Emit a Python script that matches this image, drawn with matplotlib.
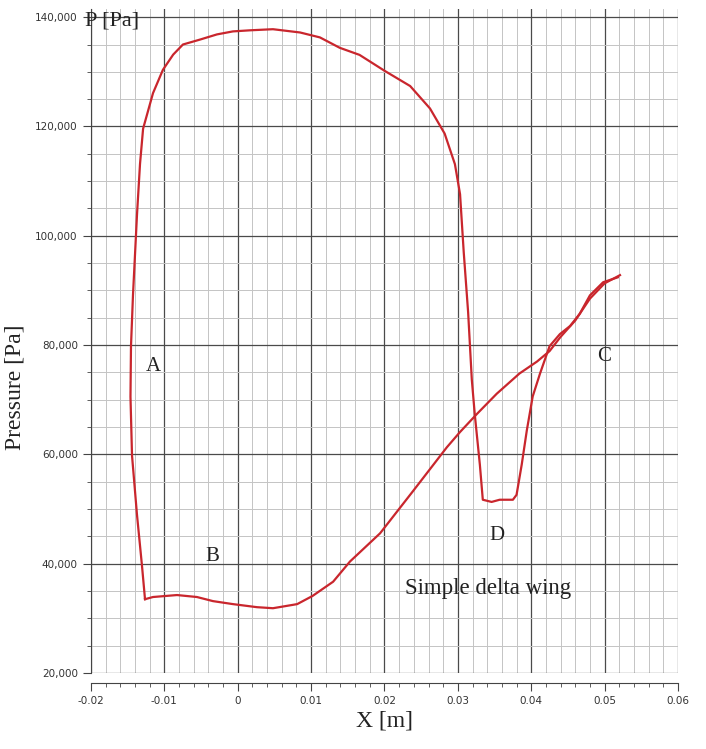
import numpy as np
import matplotlib.pyplot as plt
from matplotlib.ticker import MultipleLocator, FuncFormatter

# upper surface: from leading-edge corner, up the left branch, over the top, down to D, up to C
upper_x = [-0.01264, -0.01305, -0.01373, -0.01441, -0.01462, -0.01455, -0.01428, -0.01373,
           -0.01332, -0.0129, -0.01155, -0.0102, -0.0088, -0.00747, -0.00515, -0.00283,
           -0.00065, 0.0017, 0.0048, 0.0085, 0.0112, 0.0139, 0.0166, 0.0200, 0.0235,
           0.0262, 0.0282, 0.0296, 0.0303, 0.0308, 0.0314, 0.0319, 0.0323, 0.0330,
           0.0334, 0.0346, 0.0357, 0.0375, 0.0380, 0.0387, 0.0394, 0.0402, 0.0412,
           0.0425, 0.0439, 0.0453, 0.0466, 0.0480, 0.0498, 0.0518]
upper_p = [33500, 39600, 48900, 59800, 70550, 79800, 89100, 103900,
           113150, 119600, 126100, 130370, 133150, 135000, 135900, 136850,
           137400, 137600, 137800, 137200, 136300, 134400, 133100, 130200, 127400,
           123300, 118700, 113100, 107600, 97000, 86000, 73700, 67400, 58100,
           51700, 51300, 51700, 51700, 52600, 58100, 64400, 70600, 74800,
           79800, 82000, 83500, 85700, 89100, 91500, 92400]

# lower surface: from the corner along B, rising to C
lower_x = [-0.01264, -0.01155, -0.00828, -0.00556, -0.00338, -0.00065, 0.00262, 0.0048,
           0.0081, 0.0102, 0.0130, 0.0153, 0.0194, 0.0239, 0.0285, 0.0303, 0.0326,
           0.0353, 0.0384, 0.0408, 0.0425, 0.0440, 0.0460, 0.0480, 0.0500, 0.0521]
lower_p = [33500, 33900, 34260, 33900, 33150, 32600, 32040, 31850,
           32600, 34100, 36700, 40400, 45560, 53300, 61300, 64100, 67400,
           71100, 74800, 77000, 78900, 81500, 84500, 88500, 91300, 92800]

# point labels
label_text = ['A', 'B', 'C', 'D']
label_x = [-0.0115, -0.0034, 0.0499, 0.0353]
label_p = [76100, 41300, 78000, 45200]

serif = ['Liberation Serif', 'DejaVu Serif']
line_color = '#c9262d'

fig = plt.figure(figsize=(7.06, 7.49), dpi=100)
ax = fig.add_axes([0.1289, 0.1015, 0.8314, 0.8865])

ax.plot(upper_x, upper_p, color=line_color, lw=1.6)
ax.plot(lower_x, lower_p, color=line_color, lw=1.6)

ax.set_xlim(-0.02, 0.06)
ax.set_ylim(20000, 141500)

ax.xaxis.set_major_locator(MultipleLocator(0.01))
ax.xaxis.set_minor_locator(MultipleLocator(0.002))
ax.yaxis.set_major_locator(MultipleLocator(20000))
ax.yaxis.set_minor_locator(MultipleLocator(5000))

ax.xaxis.set_major_formatter(FuncFormatter(lambda v, _: '0' if abs(v) < 1e-9 else f'{v:g}'))
ax.yaxis.set_major_formatter(FuncFormatter(lambda v, _: f'{v:,.0f}'))

ax.grid(which='major', color='#4a4a4a', lw=0.9)
ax.grid(which='minor', color='#c4c4c4', lw=0.7)
ax.set_axisbelow(True)

for s in ['top', 'right']:
    ax.spines[s].set_visible(False)
ax.spines['bottom'].set_position(('outward', 7))
ax.spines['bottom'].set_color('#444444')
ax.spines['left'].set_color('#444444')

ax.tick_params(which='major', length=6, color='#444444', labelsize=7.5, labelcolor='#333333')
ax.tick_params(which='minor', length=3, color='#444444')

for t, x, p in zip(label_text, label_x, label_p):
    ax.text(x, p, t, family=serif, fontsize=15, ha='center', va='center', color='#222222')

ax.text(0.0228, 35400, 'Simple delta wing', family=serif, fontsize=16.5, ha='left', va='center',
        color='#222222')
ax.text(-0.0208, 139300, 'P [Pa]', family=serif, fontsize=16, ha='left', va='center',
        color='#222222')

ax.set_xlabel('X [m]', family=serif, fontsize=17, color='#222222', labelpad=3)
ax.set_ylabel('Pressure [Pa]', family=serif, fontsize=17, color='#222222')
ax.yaxis.set_label_coords(-0.112, 0.43)

fig.savefig('out.png', dpi=100, facecolor='white')
